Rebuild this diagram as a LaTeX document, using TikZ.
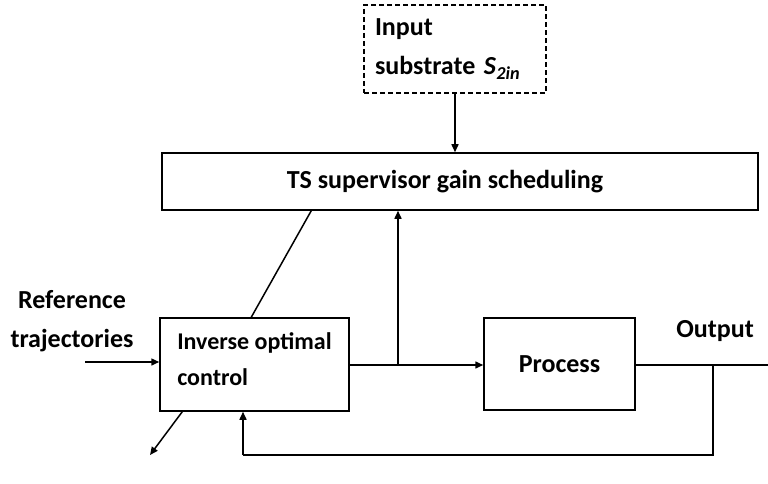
\documentclass[tikz,border=0pt]{standalone}
\usepackage{fontspec}
\setmainfont{Carlito}
\usetikzlibrary{arrows.meta,calc}
\begin{document}
\begin{tikzpicture}[x=1pt,y=-1pt,
  every node/.style={font=\bfseries\fontsize{26}{39}\selectfont},
  blk/.style={draw,line width=1.5pt,inner sep=0pt},
  wire/.style={line width=1.5pt},
  arr/.style={wire,-{Triangle[length=8pt,width=7pt]}}]
\useasboundingbox (0,0) rectangle (768,484);

% blocks
\node[blk,dashed,dash pattern=on 5pt off 3pt,minimum width=182,minimum height=88,
      text width=160,align=left] (inp) at (455,49)
  {Input\\substrate \textit{S}\textsubscript{\textit{2in}}};
\node[blk,minimum width=596,minimum height=57] (ts) at (460,181.5)
  {TS supervisor gain scheduling\hspace*{30pt}\mbox{}};
\node[blk,minimum width=189,minimum height=93,align=left,
      font=\bfseries\fontsize{24}{36}\selectfont] (ioc) at (254.5,364.5)
  {Inverse optimal\\control\rule[-10pt]{0pt}{0pt}};
\node[blk,minimum width=151,minimum height=92] (proc) at (559.5,364) {Process};

% labels
\node[align=center] (ref) at (72,321) {Reference\\trajectories};
\node (outl) at (715,331) {Output};

% signal points
\coordinate (rin) at (85,362);
\coordinate (j1) at (398,365);
\coordinate (j2) at (713,365);
\coordinate (yout) at (768,365);
\coordinate (fb1) at (713,455);
\coordinate (fb2) at (243,455);
\coordinate (tun) at (150,455);

% connectors
\draw[arr] (inp.south) -- (inp.south |- ts.north);
\draw[arr] (rin) -- (rin -| ioc.west);
\draw[arr] (j1 -| ioc.east) -- (j1 -| proc.west);
\draw[arr] (j1) -- (j1 |- ts.south);
\draw[wire] (j1 -| proc.east) -- (yout);
\draw[wire] (j2) -- (fb1) -- (fb2);
\draw[arr] (fb2) -- (fb2 |- ioc.south);

% adjustable-gain line through the controller
\draw[wire] ($(ts.south west)+(150,0)$) -- ($(ioc.north west)+(92,0)$);
\draw[arr] ($(ioc.south west)+(23,0)$) -- (tun);
\end{tikzpicture}
\end{document}
